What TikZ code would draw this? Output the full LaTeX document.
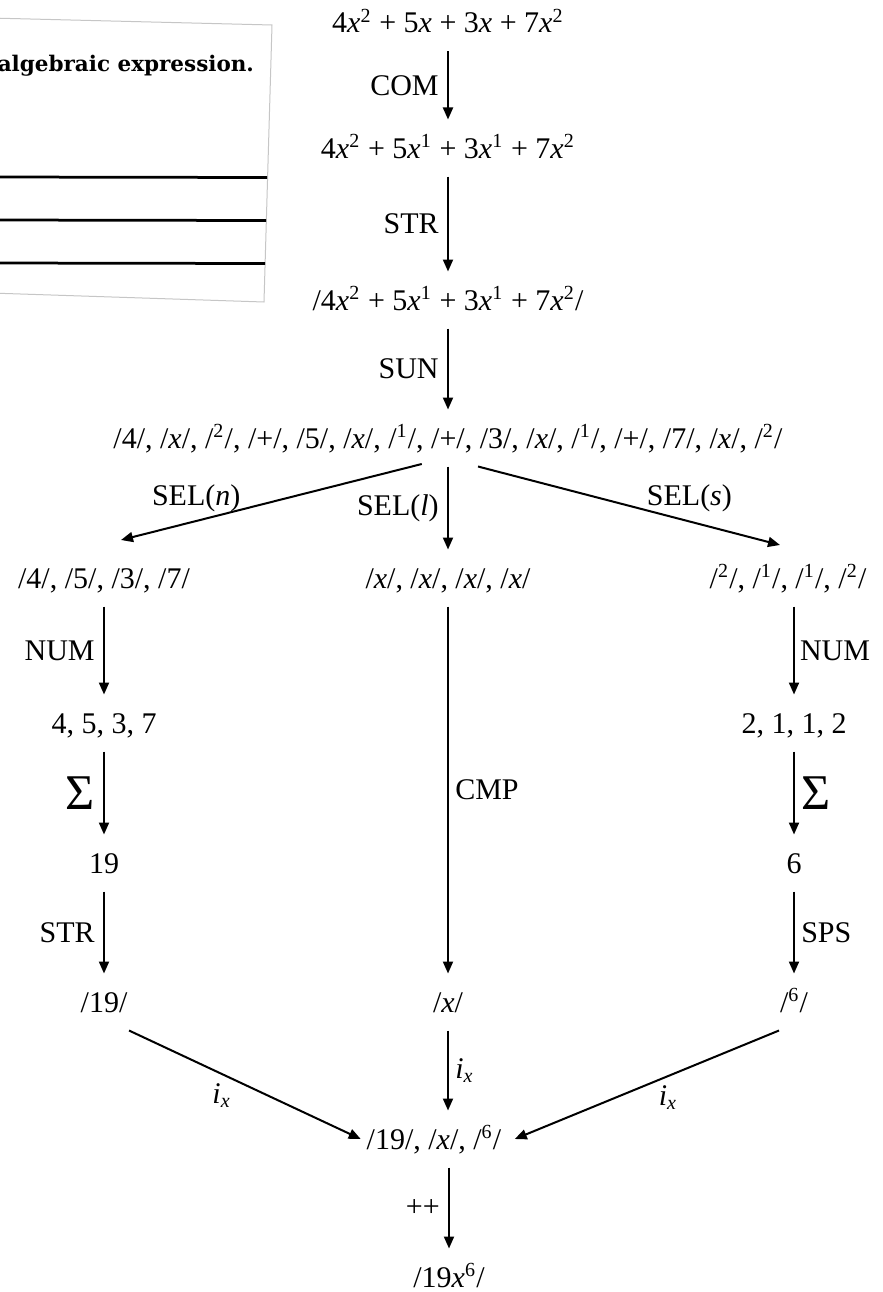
\documentclass[tikz,border=0pt]{standalone}
\usepackage{fontspec}
\setmainfont{Liberation Serif}
\newfontfamily\sheetfont{DejaVu Serif}
\usetikzlibrary{arrows.meta}

% little helpers for the terms
\newcommand{\vx}{\textit{x}}
\newcommand{\sx}[1]{\textsuperscript{#1}}
\newcommand{\ix}{\textit{i}\textsubscript{\textit{x}}}
\newcommand{\bigsig}{{\fontsize{20}{20}\selectfont Σ}}

\begin{document}
\begin{tikzpicture}[x=0.4pt, y=-0.4pt, >={Triangle[length=4.8pt,width=4pt]}, line width=0.8pt,
  font=\fontsize{12}{14.4}\selectfont,
  expr/.style={anchor=base, text height=11pt, text depth=3pt, inner xsep=2pt, inner ysep=4pt}]

\useasboundingbox (0,0) rectangle (882,1292);

% scrap of the worksheet in the corner
\fill[white] (-10,18) -- (272,25) -- (264,302) -- (-10,293) -- cycle;
\draw[gray!45, line width=0.4pt] (-10,18) -- (272,25) -- (264,302) -- (-10,293);
\node[anchor=base east, inner sep=0pt, font=\sheetfont\bfseries\fontsize{8.6}{10}\selectfont] (task) at (255,72) {algebraic expression.};
\draw[line width=1.1pt] (-10,177) -- (267,177.5);
\draw[line width=1.1pt] (-10,220) -- (266,220.5);
\draw[line width=1.1pt] (-10,263) -- (265,263.5);

% the expression and its rewrites
\node[expr] (e0) at (448,33) {4\vx\sx{2} + 5\vx{} + 3\vx{} + 7\vx\sx{2}};
\node[expr] (e1) at (448,158) {4\vx\sx{2} + 5\vx\sx{1} + 3\vx\sx{1} + 7\vx\sx{2}};
\node[expr] (e2) at (448,310) {/4\vx\sx{2} + 5\vx\sx{1} + 3\vx\sx{1} + 7\vx\sx{2}/};
\node[expr] (toks) at (448,448) {/4/, /\vx/, /\sx{2}/, /+/, /5/, /\vx/, /\sx{1}/, /+/, /3/, /\vx/, /\sx{1}/, /+/, /7/, /\vx/, /\sx{2}/};

% three branches
\node[expr] (selN) at (104,588) {/4/, /5/, /3/, /7/};
\node[expr] (selL) at (448,588) {/\vx/, /\vx/, /\vx/, /\vx/};
\node[expr] (selS) at (788,588) {/\sx{2}/, /\sx{1}/, /\sx{1}/, /\sx{2}/};

\node[expr] (nums) at (104,733) {4, 5, 3, 7};
\node[expr] (sumN) at (104,873) {19};
\node[expr] (strN) at (104,1012) {/19/};

\node[expr] (exps) at (794,733) {2, 1, 1, 2};
\node[expr] (sumS) at (794,873) {6};
\node[expr] (strS) at (794,1012) {/\sx{6}/};

\node[expr] (strL) at (448,1012) {/\vx/};

% merged again
\node[expr] (joined) at (434,1149) {/19/, /\vx/, /\sx{6}/};
\node[expr] (result) at (449,1287) {/19\vx\sx{6}/};

% arrows down the trunk
\draw[->] (e0) -- node[left] {COM} (e1);
\draw[->] (e1) -- node[left] {STR} (e2);
\draw[->] (e2) -- node[left] {SUN} (toks);

% splitting
\draw[->] ([xshift=-10.5pt,yshift=1pt]toks.south) -- node[pos=0.75, above] {SEL(\textit{n})} ([xshift=6.8pt,yshift=3.8pt]selN.north);
\draw[->] (toks.south) -- node[left] {SEL(\textit{l})} (selL.north);
\draw[->] ([xshift=12pt]toks.south) -- node[pos=0.7, above] {SEL(\textit{s})} ([xshift=-3.2pt,yshift=1.8pt]selS.north);

% left branch
\draw[->] (selN) -- node[left] {NUM} (nums);
\draw[->] (nums) -- node[left] {\bigsig} (sumN);
\draw[->] (sumN) -- node[left] {STR} (strN);

% middle branch
\draw[->] (selL) -- node[right, inner sep=2.5pt] {CMP} (strL);

% right branch
\draw[->] (selS.south -| exps) -- node[right, inner sep=2pt] {NUM} (exps);
\draw[->] (exps) -- node[right, inner sep=2.5pt] {\bigsig} (sumS);
\draw[->] (sumS) -- node[right, inner sep=2.5pt] {SPS} (strS);

% joining
\draw[->] ([xshift=10pt]strN.south) -- node[pos=0.4, below] {\ix} (joined.west);
\draw[->] (strL) -- node[right, inner sep=2.5pt] {\ix} (strL |- joined.north);
\draw[->] ([xshift=-6pt]strS.south) -- node[pos=0.42, below] {\ix} ([xshift=3pt]joined.east);
\draw[->] (joined.south -| result) -- node[left] {++} (result);

\end{tikzpicture}
\end{document}
